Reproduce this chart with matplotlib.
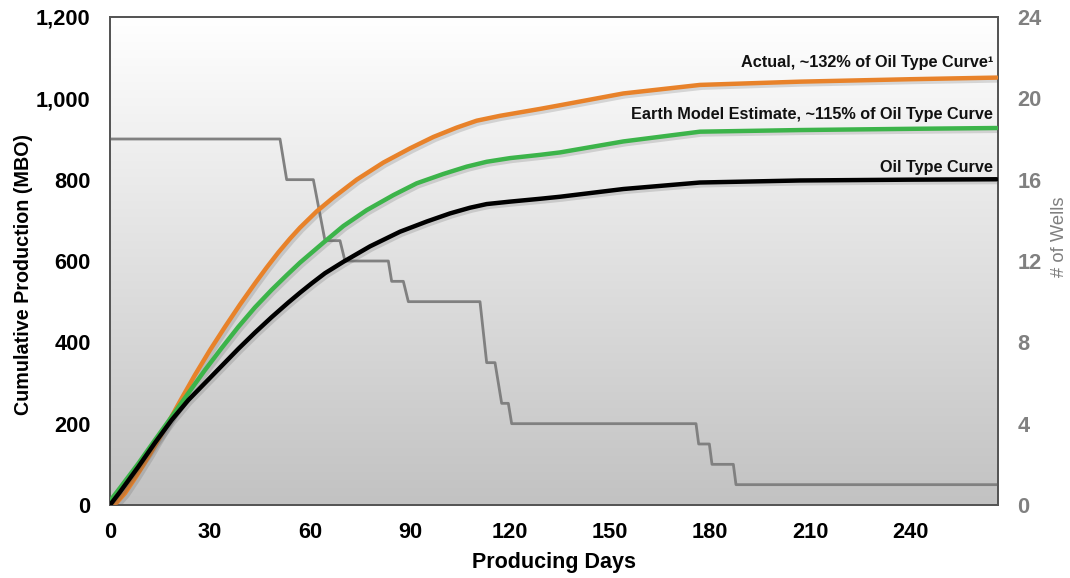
import numpy as np
import matplotlib
matplotlib.use("Agg")
import matplotlib.pyplot as plt
import matplotlib.patheffects as pe

plt.rcParams['font.family'] = ['Liberation Sans', 'DejaVu Sans']

# ---- data ----
days_type = [0, 3, 8.5, 13.5, 18.5, 23.5, 28.5, 33.5, 38.5, 43.5, 48.5, 53.5, 57, 60.5, 64.5, 70,
             78, 87, 95, 102, 108, 113, 120, 129, 135, 154, 177, 207, 240, 266]
oil_type_curve = [0, 32, 94, 153, 209, 258, 300, 342, 384, 424, 462, 498, 522, 545, 570, 598,
                  636, 672, 697, 717, 731, 740, 746, 753, 758, 777, 793, 798, 800, 801]

days_earth = [0, 3, 8.5, 13.5, 18.5, 23.5, 28.5, 33.5, 38.5, 43.5, 48.5, 53, 57, 61, 64, 70,
              77, 85, 92, 100, 107, 113, 120, 129, 135, 154, 177, 207, 240, 266]
earth_model = [10, 42, 102, 160, 217, 275, 332, 386, 438, 486, 529, 565, 596, 624, 645, 686,
               725, 762, 791, 814, 832, 844, 853, 861, 867, 894, 918, 922, 925, 927]

days_actual = [0, 2, 4.5, 8, 12, 16.5, 21, 25.5, 30, 34.5, 39, 43.5, 47, 50.5, 54, 57, 62, 67,
               74, 82, 90, 97, 104, 110, 117, 129, 135, 154, 177, 207, 240, 266]
actual = [0, 6, 29, 72, 125, 188, 255, 320, 381, 438, 493, 545, 584, 621, 655, 682, 722, 756,
          800, 842, 877, 905, 928, 945, 957, 974, 983, 1012, 1033, 1041, 1047, 1051]

days_wells = [0, 51, 53, 61, 64.5, 69, 70.5, 83.5, 84.5, 88, 89.5, 111, 113, 115.5, 117.5,
              119.5, 120.5, 175.8, 176.6, 179.8, 180.6, 187, 187.8, 266]
wells = [18, 18, 16, 16, 13, 13, 12, 12, 11, 11, 10, 10, 7, 7, 5, 5, 4, 4, 3, 3, 2, 2, 1, 1]

x_ticks = [0, 30, 60, 90, 120, 150, 180, 210, 240]
y_ticks = [0, 200, 400, 600, 800, 1000, 1200]
y2_ticks = [0, 4, 8, 12, 16, 20, 24]

labels = ["Actual, ~132% of Oil Type Curve\u00b9",
          "Earth Model Estimate, ~115% of Oil Type Curve",
          "Oil Type Curve"]
label_y = [1087, 961, 831]

# ---- figure ----
fig = plt.figure(figsize=(10.7, 5.78), dpi=100)
ax = fig.add_axes([110/1070, 1 - 505/578, (998-110)/1070, (505-17)/578])
ax.set_xlim(0, 266.4)
ax.set_ylim(0, 1200)

# gradient background
grad = np.linspace(1, 0, 256).reshape(-1, 1)
ax.imshow(grad, extent=[0, 1, 0, 1], transform=ax.transAxes, aspect='auto',
          cmap=matplotlib.colors.LinearSegmentedColormap.from_list('g', ['#c2c2c2', '#ffffff']),
          zorder=0, interpolation='bicubic')

ax2 = ax.twinx()
ax2.set_ylim(0, 24)
ax2.plot(days_wells, wells, color='#808080', lw=2.0, zorder=2)

shadow = [pe.SimpleLineShadow(offset=(1.5, -2), shadow_color='#555555', alpha=0.2), pe.Normal()]
ax3 = ax.twinx()
ax3.set_ylim(0, 1200)
ax3.axis('off')
ax3.plot(days_actual, actual, color='#E8822A', lw=3.2, solid_capstyle='round',
         solid_joinstyle='round', path_effects=shadow)
ax3.plot(days_earth, earth_model, color='#3CB44A', lw=3.2, solid_capstyle='round',
         solid_joinstyle='round', path_effects=shadow)
ax3.plot(days_type, oil_type_curve, color='#000000', lw=3.2, solid_capstyle='round',
         solid_joinstyle='round', path_effects=shadow)
ax3.set_xlim(0, 266.4)

for txt, yy in zip(labels, label_y):
    ax3.text(265, yy, txt, ha='right', va='center', fontsize=11.7, fontweight='bold', color='#111111')

ax.set_xticks(x_ticks)
ax.set_yticks(y_ticks)
ax.set_yticklabels([f"{v:,}" for v in y_ticks])
ax2.set_yticks(y2_ticks)

ax.tick_params(axis='y', length=0, labelsize=15.7, pad=14)
ax.tick_params(axis='x', length=0, labelsize=15.7, pad=12)
for lab in ax.get_xticklabels() + ax.get_yticklabels():
    lab.set_fontweight('bold')
ax2.tick_params(axis='y', length=0, labelsize=15.7, labelcolor='#808080', pad=14)
for lab in ax2.get_yticklabels():
    lab.set_fontweight('bold')

ax.set_xlabel("Producing Days", fontsize=15.5, fontweight='bold', labelpad=7)
ax.set_ylabel("Cumulative Production (MBO)", fontsize=14.2, fontweight='bold')
ax.yaxis.set_label_coords(-0.0867, 0.473)
ax2.set_ylabel("# of Wells", fontsize=13.2, color='#808080')
ax2.yaxis.set_label_coords(1.0597, 0.549)

for a in (ax, ax2):
    for s in a.spines.values():
        s.set_color('#555555')
        s.set_linewidth(1.3)

fig.savefig("out.png", dpi=100)
